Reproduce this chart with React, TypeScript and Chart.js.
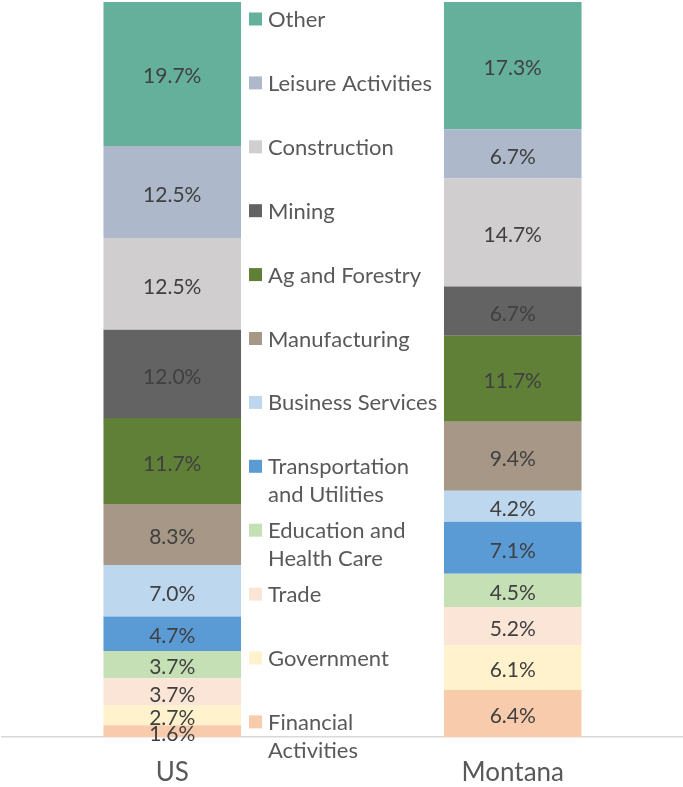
import React, { useEffect, useRef } from "react";
import { Chart, registerables } from "chart.js";

Chart.register(...registerables);

const categories = ["US", "Montana"];

// bottom -> top order
const seriesNames = [
  "Financial Activities",
  "Government",
  "Trade",
  "Education and Health Care",
  "Transportation and Utilities",
  "Business Services",
  "Manufacturing",
  "Ag and Forestry",
  "Mining",
  "Construction",
  "Leisure Activities",
  "Other",
];

const legendLines: string[][] = [
  ["Financial", "Activities"],
  ["Government"],
  ["Trade"],
  ["Education and", "Health Care"],
  ["Transportation", "and Utilities"],
  ["Business Services"],
  ["Manufacturing"],
  ["Ag and Forestry"],
  ["Mining"],
  ["Construction"],
  ["Leisure Activities"],
  ["Other"],
];

const usValues = [1.6, 2.7, 3.7, 3.7, 4.7, 7.0, 8.3, 11.7, 12.0, 12.5, 12.5, 19.7];
const montanaValues = [6.4, 6.1, 5.2, 4.5, 7.1, 4.2, 9.4, 11.7, 6.7, 14.7, 6.7, 17.3];

const colors = [
  "#F8CBAD",
  "#FFF2CC",
  "#FBE5D6",
  "#C5E0B4",
  "#5B9BD5",
  "#BDD7EE",
  "#A69786",
  "#608038",
  "#636363",
  "#D0CECE",
  "#ADB9CA",
  "#65B09A",
];

const FONT = "Lato";

const labelPlugin = {
  id: "segLabels",
  afterDatasetsDraw(chart: any) {
    const ctx = chart.ctx;
    ctx.save();
    ctx.font = `21px ${FONT}`;
    ctx.fillStyle = "#404040";
    ctx.textAlign = "center";
    ctx.textBaseline = "middle";
    chart.data.datasets.forEach((ds: any, i: number) => {
      const meta = chart.getDatasetMeta(i);
      meta.data.forEach((bar: any, j: number) => {
        const v = ds.data[j];
        const cy = (bar.y + bar.base) / 2;
        ctx.fillText(v.toFixed(1) + "%", bar.x, cy + 3);
      });
    });
    ctx.restore();
  },
};

const legendPlugin = {
  id: "midLegend",
  afterDraw(chart: any) {
    const ctx = chart.ctx;
    ctx.save();
    ctx.font = `22px ${FONT}`;
    ctx.textAlign = "left";
    ctx.textBaseline = "middle";
    const n = seriesNames.length;
    for (let k = 0; k < n; k++) {
      const idx = n - 1 - k; // top to bottom
      const cy = 19 + k * 63.9;
      ctx.fillStyle = colors[idx];
      ctx.fillRect(249, cy - 6.5, 13, 13);
      ctx.fillStyle = "#595959";
      legendLines[idx].forEach((line, li) => {
        ctx.fillText(line, 268, cy + li * 28 + 1);
      });
    }
    ctx.restore();
  },
};

export default function App() {
  const ref = useRef<HTMLCanvasElement | null>(null);
  useEffect(() => {
    if (!ref.current) return;
    const chart = new Chart(ref.current, {
      type: "bar",
      data: {
        labels: categories,
        datasets: seriesNames.map((name, i) => ({
          label: name,
          data: [usValues[i], montanaValues[i]],
          backgroundColor: colors[i],
          borderWidth: 0,
          barPercentage: 0.404,
          categoryPercentage: 1,
        })),
      },
      options: {
        responsive: false,
        animation: false,
        layout: { padding: { top: 2, bottom: 0, left: 2, right: 0 } },
        plugins: {
          legend: { display: false },
          tooltip: { enabled: false },
        },
        scales: {
          x: {
            stacked: true,
            grid: { display: false, drawTicks: false },
            border: { display: true, color: "#D9D9D9", width: 1.5 },
            ticks: { color: "#595959", font: { family: FONT, size: 26 }, padding: 20 },
            afterFit(scale: any) {
              scale.height = 50;
            },
          },
          y: {
            stacked: true,
            display: false,
            min: 0,
            max: 100,
          },
        },
      },
      plugins: [labelPlugin, legendPlugin],
    });
    return () => chart.destroy();
  }, []);
  return (
    <div style={{ position: "absolute", left: 0, top: 0, width: 683, height: 787, background: "#fff" }}>
      <canvas ref={ref} width={683} height={787} />
    </div>
  );
}
